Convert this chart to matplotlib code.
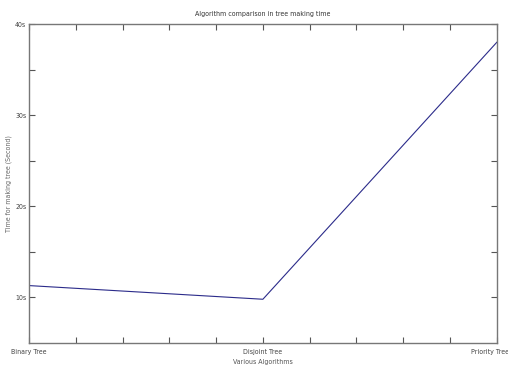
import matplotlib
matplotlib.use("Agg")
import matplotlib.pyplot as plt
import matplotlib.transforms as mtransforms

algorithms = ["Binary Tree", "Disjoint Tree", "Priority Tree"]
positions = [0, 5, 10]
times = [11.3, 9.8, 38.0]
ytick_vals = [10, 20, 30, 40]
ytick_labels = ["10s", "20s", "30s", "40s"]

plt.rcParams['font.family'] = ['DejaVu Sans']
plt.rcParams['font.stretch'] = 'condensed'

fig = plt.figure(figsize=(5.08, 3.70), dpi=100)
ax = fig.add_axes([0.057, 0.073, 0.921, 0.862])
ax.plot(positions, times, color="#2b2b8a", linewidth=0.8)

ax.set_xlim(0, 10)
ax.set_ylim(5, 40)
ax.set_xticks(range(11))
ax.set_xticklabels([algorithms[positions.index(i)] if i in positions else "" for i in range(11)])
ax.set_yticks([10, 15, 20, 25, 30, 35, 40])
ax.set_yticklabels([ytick_labels[ytick_vals.index(v)] if v in ytick_vals else "" for v in [10, 15, 20, 25, 30, 35, 40]])
ax.tick_params(direction="in", length=4, width=0.8, colors="#555555",
               labelsize=5, top=True, right=True, labelcolor="#444444", pad=2)
ax.tick_params(axis="x", pad=4)
for s in ax.spines.values():
    s.set_color("#777777")
    s.set_linewidth(1.0)

# last label would run off the figure edge; pull it just inside
last = ax.get_xticklabels()[-1]
last.set_horizontalalignment("right")
last.set_transform(last.get_transform() + mtransforms.ScaledTranslation(9 / 72, 0, fig.dpi_scale_trans))

ax.set_title("Algorithm comparison in tree making time", fontsize=5, color="#333333", pad=6)
ax.set_xlabel("Various Algorithms", fontsize=5, color="#555555", labelpad=3)
ax.set_ylabel("Time for making tree (Second)", fontsize=5, color="#666666", labelpad=2)

fig.savefig("out.png", dpi=100)
